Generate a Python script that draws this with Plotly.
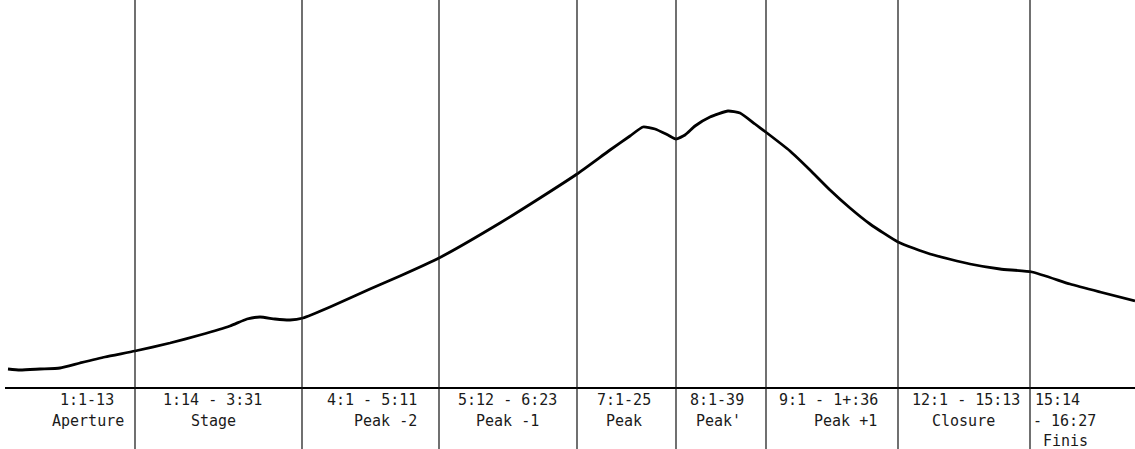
import plotly.graph_objects as go

# ---- data ----
curve_x = [8, 20, 40, 60, 80, 105, 135, 170, 200, 230, 247, 260, 275, 290, 303, 330, 370, 400,
           439, 500, 540, 577, 610, 630, 643, 655, 668, 676, 685, 695, 710, 728, 740, 755, 767,
           790, 810, 830, 850, 870, 898, 930, 970, 1000, 1032, 1070, 1100, 1135]
curve_y = [19, 18, 19, 20, 25, 31, 37, 45, 53, 62, 69, 71, 69, 68, 70, 81, 99, 112,
           130, 165, 190, 214, 238, 252, 261, 259, 253, 249, 253, 262, 271, 277, 275, 264, 255,
           237, 218, 198, 180, 164, 146, 134, 124, 119, 116, 104, 96, 87]

boundaries = [135, 302, 439, 577, 676, 766, 898, 1030]
ranges = ["1:1-13", "1:14 - 3:31", "4:1 - 5:11", "5:12 - 6:23", "7:1-25", "8:1-39",
          "9:1 - 1+:36", "12:1 - 15:13", "15:14"]
sections = ["Aperture", "Stage", "Peak -2", "Peak -1", "Peak", "Peak'", "Peak +1",
            "Closure", "- 16:27"]
extra = [None, None, None, None, None, None, None, None, "Finis"]

# ---- layout / style ----
W, H = 1135, 449
FONT = dict(family="DejaVu Sans Mono", size=15, color="#1a1a1a")
range_pos = [(87, "center"), (212, "center"), (372, "center"), (507, "center"), (624, "center"),
             (717, "center"), (828, "center"), (966, "center"), (1033, "left")]
sect_pos = [(126, "right"), (213, "center"), (419, "right"), (507, "center"), (624, "center"),
            (718, "center"), (845, "center"), (963, "center"), (1031, "left")]
extra_pos = (1041, "left")
Y1, Y2, Y3 = -12, -33, -53

fig = go.Figure()
fig.add_trace(go.Scatter(x=curve_x, y=curve_y, mode="lines",
                         line=dict(color="black", width=2.8, shape="spline", smoothing=0.5),
                         hoverinfo="skip", showlegend=False))

shapes = [dict(type="line", xref="x", yref="y", x0=5, x1=W, y0=0, y1=0,
               line=dict(color="black", width=2))]
for b in boundaries:
    shapes.append(dict(type="line", xref="x", yref="paper", x0=b, x1=b, y0=0, y1=1,
                       line=dict(color="#111", width=1.2)))

ann = []
for i, t in enumerate(ranges):
    x, a = range_pos[i]
    ann.append(dict(x=x, y=Y1, xref="x", yref="y", text=t, showarrow=False, xanchor=a,
                    yanchor="middle", font=FONT))
for i, t in enumerate(sections):
    x, a = sect_pos[i]
    ann.append(dict(x=x, y=Y2, xref="x", yref="y", text=t, showarrow=False, xanchor=a,
                    yanchor="middle", font=FONT))
for i, t in enumerate(extra):
    if t:
        ann.append(dict(x=extra_pos[0], y=Y3, xref="x", yref="y", text=t, showarrow=False,
                        xanchor=extra_pos[1], yanchor="middle", font=FONT))

fig.update_layout(width=W, height=H, margin=dict(l=0, r=0, t=0, b=0),
                  paper_bgcolor="white", plot_bgcolor="white",
                  xaxis=dict(range=[0, W], visible=False, fixedrange=True),
                  yaxis=dict(range=[-61, 388], visible=False, fixedrange=True),
                  shapes=shapes, annotations=ann)

fig.write_html("out.html", config={"displayModeBar": False, "staticPlot": True},
               post_script="document.body.style.margin='0';document.body.style.overflow='hidden';")
